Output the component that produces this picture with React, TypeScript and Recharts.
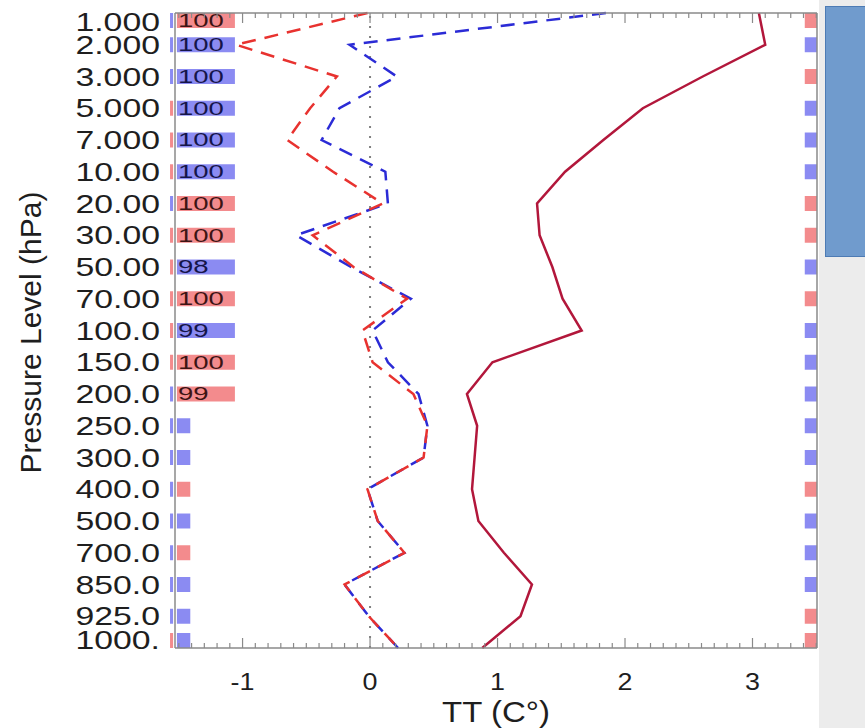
import React from "react";
import { ComposedChart, Line, XAxis, YAxis, ReferenceArea, ReferenceLine } from "recharts";

// pressure levels, top to bottom
const levels = [
  "1.000", "2.000", "3.000", "5.000", "7.000", "10.00", "20.00", "30.00", "50.00", "70.00",
  "100.0", "150.0", "200.0", "250.0", "300.0", "400.0", "500.0", "700.0", "850.0", "925.0", "1000.",
];

// TT values (C) per level
const solidTT = [3.05, 3.1, 2.61, 2.14, 1.83, 1.53, 1.31, 1.33, 1.43, 1.51, 1.66, 0.96, 0.76, 0.84, 0.82, 0.8, 0.85, 1.05, 1.27, 1.18, 0.88];
const redTT = [-0.02, -1.05, -0.26, -0.47, -0.65, -0.29, 0.1, -0.45, -0.13, 0.29, -0.06, 0.02, 0.34, 0.45, 0.42, -0.02, 0.06, 0.27, -0.2, -0.01, 0.22];
const blueTT = [1.85, -0.16, 0.21, -0.24, -0.38, 0.12, 0.14, -0.58, -0.15, 0.32, 0.02, 0.14, 0.38, 0.45, 0.42, -0.02, 0.06, 0.27, -0.2, -0.01, 0.22];

// significance markers: r = red, b = blue
const stripColors = ["b", "b", "b", "r", "r", "r", "b", "r", "r", "r", "r", "r", "b", "b", "b", "b", "b", "b", "b", "b", "r"];
const leftBarColors = ["r", "b", "b", "b", "b", "b", "r", "r", "b", "r", "b", "r", "r", "b", "b", "r", "b", "r", "b", "b", "b"];
const leftCounts = ["100", "100", "100", "100", "100", "100", "100", "100", "98", "100", "99", "100", "99", "", "", "", "", "", "", "", ""];
const rightBarColors = ["r", "b", "r", "b", "b", "b", "r", "r", "b", "r", "b", "b", "b", "b", "b", "r", "b", "b", "b", "r", "r"];

const xMajorTicks = [-1, 0, 1, 2, 3];
const xTickLabels = ["-1", "0", "1", "2", "3"];

const XMIN = -1.53;
const XMAX = 3.506;
const H = 0.236;
const FONT = "'Liberation Sans', Arial, Helvetica, sans-serif";
const AXIS = "#8a8a8a";
const barFill = (c: string) => (c === "r" ? "#f38b8d" : "#8b8bf2");

const minorTicks: number[] = [];
for (let i = -15; i <= 35; i++) minorTicks.push(i / 10);

const data = levels.map((_l, i) => ({ idx: i, solid: solidTT[i], red: redTT[i], blue: blueTT[i] }));

const span = (i: number): [number, number] => {
  if (i === 0) return [0, 2 * H];
  if (i === levels.length - 1) return [i - 2 * H, i];
  return [i - H, i + H];
};

const YTick = (props: any) => {
  const { x, y, payload } = props;
  const i = payload.value;
  const shift = i === 0 ? 9 : i === levels.length - 1 ? -8 : 0;
  return (
    <text
      transform={`translate(${x},${y + shift}) scale(1.3,1)`}
      textAnchor="end"
      dominantBaseline="central"
      fontSize={26}
      fontFamily={FONT}
      fill="#1e1e1e"
    >
      {levels[i]}
    </text>
  );
};

const BottomTick = (props: any) => {
  const { x, y, payload } = props;
  const v = payload.value;
  const k = xMajorTicks.findIndex((m) => Math.abs(m - v) < 1e-6);
  return (
    <g>
      <line x1={x} x2={x} y1={y} y2={y - (k >= 0 ? 10 : 5)} stroke={AXIS} strokeWidth={1.2} />
      {k >= 0 && (
        <text
          transform={`translate(${x},${y + 42}) scale(1.12,1)`}
          textAnchor="middle"
          fontSize={24}
          fontFamily={FONT}
          fill="#1e1e1e"
        >
          {xTickLabels[k]}
        </text>
      )}
    </g>
  );
};

const TopTick = (props: any) => {
  const { x, y, payload } = props;
  const major = xMajorTicks.some((m) => Math.abs(m - payload.value) < 1e-6);
  return <line x1={x} x2={x} y1={y} y2={y + (major ? 10 : 5)} stroke={AXIS} strokeWidth={1.2} />;
};

const countLabel = (txt: string, color: string) => (p: any) => {
  const vb = p.viewBox;
  return (
    <text
      transform={`translate(${vb.x + 1},${vb.y + vb.height / 2}) scale(1.45,1)`}
      dominantBaseline="central"
      fontSize={19}
      fontFamily={FONT}
      fill={color}
    >
      {txt}
    </text>
  );
};

export default function App() {
  return (
    <div style={{ position: "absolute", left: 0, top: 0, width: 865, height: 728, overflow: "hidden", background: "#fff" }}>
      <div style={{ position: "absolute", left: 819, top: 0, width: 46, height: 728, background: "#ececec" }} />
      <div style={{ position: "absolute", left: 0, top: 0 }}>
        <ComposedChart
          width={865}
          height={728}
          data={data}
          layout="vertical"
          margin={{ top: 5, right: 48, bottom: 0, left: 0 }}
        >
          <XAxis
            type="number"
            domain={[XMIN, XMAX]}
            allowDataOverflow
            ticks={minorTicks}
            interval={0}
            tick={<BottomTick />}
            tickLine={false}
            tickSize={0}
            tickMargin={0}
            height={80}
            axisLine={{ stroke: AXIS, strokeWidth: 1.5 }}
            label={(p: any) => (
              <text
                transform={`translate(${p.viewBox.x + p.viewBox.width / 2},${p.viewBox.y + 74}) scale(1.1,1)`}
                textAnchor="middle"
                fontSize={30}
                fontFamily={FONT}
                fill="#1e1e1e"
              >
                TT (C°)
              </text>
            )}
          />
          <XAxis
            xAxisId="top"
            orientation="top"
            type="number"
            dataKey="solid"
            domain={[XMIN, XMAX]}
            allowDataOverflow
            ticks={minorTicks}
            interval={0}
            tick={<TopTick />}
            tickLine={false}
            tickSize={0}
            tickMargin={0}
            height={8}
            axisLine={{ stroke: AXIS, strokeWidth: 1.5 }}
          />
          <YAxis
            type="number"
            dataKey="idx"
            domain={[0, levels.length - 1]}
            ticks={levels.map((_l, i) => i)}
            interval={0}
            tick={<YTick />}
            tickLine={false}
            tickSize={0}
            tickMargin={15}
            width={175}
            axisLine={{ stroke: AXIS, strokeWidth: 1.5 }}
            label={(p: any) => (
              <text
                x={p.viewBox.x + 30}
                y={p.viewBox.y + p.viewBox.height / 2 + 2}
                transform={`rotate(-90, ${p.viewBox.x + 30}, ${p.viewBox.y + p.viewBox.height / 2 + 2})`}
                textAnchor="middle"
                dominantBaseline="central"
                fontSize={30}
                fontFamily={FONT}
                fill="#1e1e1e"
              >
                Pressure Level (hPa)
              </text>
            )}
          />

          {levels.map((_l, i) => {
            const [y1, y2] = span(i);
            return (
              <ReferenceArea
                key={`s${i}`}
                x1={-1.569}
                x2={-1.545}
                y1={y1}
                y2={y2}
                fill={barFill(stripColors[i])}
                fillOpacity={1}
                stroke="none"
                ifOverflow="visible"
              />
            );
          })}
          {levels.map((_l, i) => {
            const [y1, y2] = span(i);
            const txt = leftCounts[i];
            const c = leftBarColors[i];
            return (
              <ReferenceArea
                key={`l${i}`}
                x1={-1.515}
                x2={txt ? -1.06 : -1.41}
                y1={y1}
                y2={y2}
                fill={barFill(c)}
                fillOpacity={1}
                stroke="none"
                label={txt ? countLabel(txt, c === "r" ? "#3d1414" : "#15154a") : undefined}
              />
            );
          })}
          {levels.map((_l, i) => {
            const [y1, y2] = span(i);
            return (
              <ReferenceArea
                key={`r${i}`}
                x1={3.41}
                x2={XMAX}
                y1={y1}
                y2={y2}
                fill={barFill(rightBarColors[i])}
                fillOpacity={1}
                stroke="none"
              />
            );
          })}

          <ReferenceLine x={0} stroke="#808080" strokeWidth={2} strokeDasharray="2 8" />
          <ReferenceLine x={XMAX} stroke={AXIS} strokeWidth={1.5} />

          <Line dataKey="blue" type="linear" stroke="#2b2bd6" strokeWidth={2.5} strokeDasharray="14 9" dot={false} isAnimationActive={false} />
          <Line dataKey="red" type="linear" stroke="#e8322f" strokeWidth={2.5} strokeDasharray="14 9" dot={false} isAnimationActive={false} />
          <Line dataKey="solid" type="linear" stroke="#b2173b" strokeWidth={2.5} dot={false} isAnimationActive={false} />
        </ComposedChart>
      </div>
      <div
        style={{
          position: "absolute",
          left: 825,
          top: 6,
          width: 60,
          height: 251,
          boxSizing: "border-box",
          background: "#709bcd",
          border: "1.5px solid #4d7bb4",
        }}
      />
    </div>
  );
}
